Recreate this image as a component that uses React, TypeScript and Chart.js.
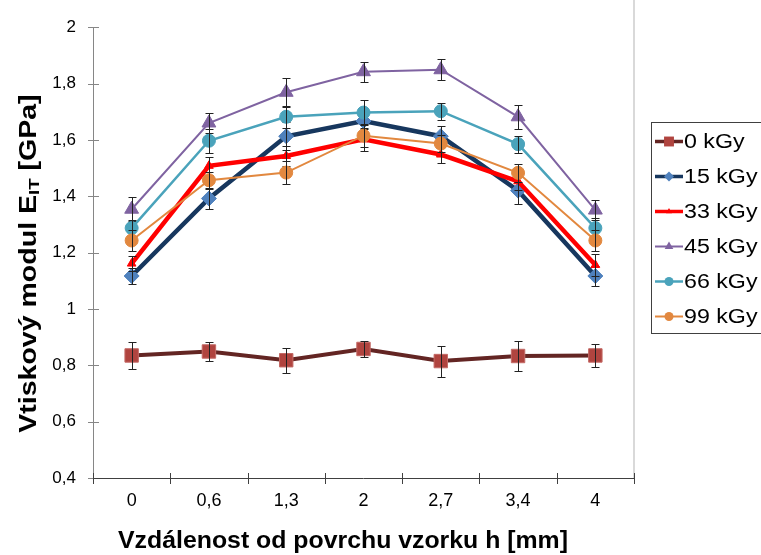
import { useEffect, useRef } from "react";
import { Chart, registerables } from "chart.js";

Chart.register(...registerables);

const categories = ["0", "0,6", "1,3", "2", "2,7", "3,4", "4"];
const seriesNames = ["0 kGy", "15 kGy", "33 kGy", "45 kGy", "66 kGy", "99 kGy"];

const values0 = [0.835, 0.849, 0.818, 0.858, 0.815, 0.833, 0.835];
const errors0 = [0.048, 0.035, 0.044, 0.028, 0.055, 0.052, 0.041];
const values15 = [1.117, 1.392, 1.613, 1.667, 1.613, 1.42, 1.117];
const errors15 = [0.03, 0.038, 0.05, 0.03, 0.037, 0.049, 0.035];
const values33 = [1.161, 1.508, 1.543, 1.602, 1.548, 1.453, 1.156];
const errors33 = [0.028, 0.031, 0.035, 0.04, 0.031, 0.03, 0.038];
const values45 = [1.354, 1.66, 1.769, 1.842, 1.849, 1.682, 1.351];
const errors45 = [0.043, 0.037, 0.051, 0.036, 0.037, 0.042, 0.036];
const values66 = [1.287, 1.597, 1.682, 1.697, 1.702, 1.585, 1.287];
const errors66 = [0.03, 0.042, 0.04, 0.043, 0.03, 0.03, 0.035];
const values99 = [1.243, 1.457, 1.484, 1.615, 1.587, 1.483, 1.243];
const errors99 = [0.037, 0.03, 0.04, 0.04, 0.03, 0.033, 0.037];

const yMin = 0.4;
const yMax = 2;
const yStep = 0.2;

const xTitle = "Vzdálenost od povrchu vzorku h [mm]";
const yTitleMain = "Vtiskový modul E";
const yTitleSub = "IT";
const yTitleEnd = " [GPa]";

const allValues = [values0, values15, values33, values45, values66, values99];
const allErrors = [errors0, errors15, errors33, errors45, errors66, errors99];

const styles = [
  { line: "#632523", width: 4, shape: "rect", radius: 9.5, fill: "#B0443F", edge: "#C46A66", lw: 3.5, lr: 7 },
  { line: "#17375E", width: 4.5, shape: "rectRot", radius: 7.5, fill: "#4F81BD", edge: "#4F81BD", lw: 3.5, lr: 5 },
  { line: "#FF0000", width: 4.5, shape: "triangle", radius: 5, fill: "#FF0000", edge: "#FF0000", lw: 3.5, lr: 3.5 },
  { line: "#7F63A1", width: 2, shape: "triangle", radius: 8, fill: "#7F63A1", edge: "#7F63A1", lw: 2, lr: 5 },
  { line: "#4AA3BB", width: 2.5, shape: "circle", radius: 6.5, fill: "#4AA3BB", edge: "#4AA3BB", lw: 2.5, lr: 4.5 },
  { line: "#E2883F", width: 2, shape: "circle", radius: 6.5, fill: "#E2883F", edge: "#E2883F", lw: 2, lr: 4.5 },
];

const FONT = "'Liberation Sans', Arial, sans-serif";

function drawMarker(ctx: CanvasRenderingContext2D, shape: string, x: number, y: number, r: number) {
  ctx.beginPath();
  if (shape === "rect") {
    const s = Math.SQRT1_2 * r;
    ctx.rect(x - s, y - s, 2 * s, 2 * s);
  } else if (shape === "rectRot") {
    ctx.moveTo(x, y - r);
    ctx.lineTo(x + r, y);
    ctx.lineTo(x, y + r);
    ctx.lineTo(x - r, y);
    ctx.closePath();
  } else if (shape === "triangle") {
    const h = r * 1.5;
    const w = r * Math.sqrt(3) / 2;
    ctx.moveTo(x, y - r);
    ctx.lineTo(x + w, y - r + h);
    ctx.lineTo(x - w, y - r + h);
    ctx.closePath();
  } else {
    ctx.arc(x, y, r, 0, Math.PI * 2);
  }
  ctx.fill();
}

const decorPlugin = {
  id: "decor",
  beforeDatasetsDraw(chart: any) {
    const ctx = chart.ctx as CanvasRenderingContext2D;
    const area = chart.chartArea;
    const xs = chart.scales.x;
    const ys = chart.scales.y;
    ctx.save();
    ctx.strokeStyle = "#D9D9D9";
    ctx.lineWidth = 2;
    ctx.beginPath();
    ctx.moveTo(area.right, 0);
    ctx.lineTo(area.right, area.bottom);
    ctx.stroke();
    ctx.strokeStyle = "#868686";
    ctx.lineWidth = 1;
    ctx.beginPath();
    ctx.moveTo(area.left + 0.5, area.top);
    ctx.lineTo(area.left + 0.5, area.bottom);
    ys.ticks.forEach((t: any) => {
      const py = Math.round(ys.getPixelForValue(t.value)) + 0.5;
      ctx.moveTo(area.left - 5, py);
      ctx.lineTo(area.left + 6, py);
    });
    ctx.stroke();
    ctx.strokeStyle = "#404040";
    ctx.beginPath();
    ctx.moveTo(area.left, area.bottom + 0.5);
    ctx.lineTo(area.right, area.bottom + 0.5);
    const step = xs.getPixelForValue(1) - xs.getPixelForValue(0);
    for (let i = 0; i <= categories.length; i++) {
      const px = Math.round(xs.getPixelForValue(0) - step / 2 + i * step) + 0.5;
      ctx.moveTo(px, area.bottom - 5);
      ctx.lineTo(px, area.bottom + 6);
    }
    ctx.stroke();
    ctx.restore();
  },
  afterDatasetDraw(chart: any, args: any) {
    const i = args.index;
    const ctx = chart.ctx as CanvasRenderingContext2D;
    const xs = chart.scales.x;
    const ys = chart.scales.y;
    const vals = allValues[i];
    const errs = allErrors[i];
    ctx.save();
    ctx.strokeStyle = "#222222";
    ctx.lineWidth = 1;
    ctx.beginPath();
    vals.forEach((v, j) => {
      const px = Math.round(xs.getPixelForValue(j)) + 0.5;
      const top = Math.round(ys.getPixelForValue(v + errs[j])) + 0.5;
      const bot = Math.round(ys.getPixelForValue(v - errs[j])) + 0.5;
      ctx.moveTo(px, top);
      ctx.lineTo(px, bot);
      ctx.moveTo(px - 4, top);
      ctx.lineTo(px + 4, top);
      ctx.moveTo(px - 4, bot);
      ctx.lineTo(px + 4, bot);
    });
    ctx.stroke();
    ctx.restore();
  },
  afterDraw(chart: any) {
    const ctx = chart.ctx as CanvasRenderingContext2D;
    const area = chart.chartArea;
    ctx.save();
    ctx.fillStyle = "#000000";
    // x title (slightly widened like the original rendering)
    ctx.font = `bold 23px ${FONT}`;
    ctx.textAlign = "center";
    ctx.textBaseline = "alphabetic";
    ctx.save();
    ctx.translate(343, 548);
    ctx.scale(1.08, 1);
    ctx.fillText(xTitle, 0, 0);
    ctx.restore();
    // y title with subscript
    ctx.translate(30, (area.top + area.bottom) / 2 + 11);
    ctx.rotate(-Math.PI / 2);
    ctx.scale(1.24, 1);
    const big = `bold 23px ${FONT}`;
    const small = `bold 15px ${FONT}`;
    ctx.font = big;
    const w1 = ctx.measureText(yTitleMain).width;
    const w3 = ctx.measureText(yTitleEnd).width;
    ctx.font = small;
    const w2 = ctx.measureText(yTitleSub).width;
    let x0 = -(w1 + w2 + w3) / 2;
    ctx.textAlign = "left";
    ctx.textBaseline = "middle";
    ctx.font = big;
    ctx.fillText(yTitleMain, x0, 0);
    x0 += w1;
    ctx.font = small;
    ctx.fillText(yTitleSub, x0, 5);
    x0 += w2;
    ctx.font = big;
    ctx.fillText(yTitleEnd, x0, 0);
    ctx.restore();

    // legend
    ctx.save();
    ctx.strokeStyle = "#404040";
    ctx.lineWidth = 1;
    ctx.strokeRect(651.5, 122.5, 130, 211);
    ctx.font = `20px ${FONT}`;
    ctx.textAlign = "left";
    ctx.textBaseline = "middle";
    seriesNames.forEach((name, i) => {
      const st = styles[i];
      const cy = 141.5 + i * 35;
      ctx.strokeStyle = st.line;
      ctx.lineWidth = st.lw;
      ctx.beginPath();
      ctx.moveTo(655, cy);
      ctx.lineTo(683, cy);
      ctx.stroke();
      ctx.fillStyle = st.fill;
      drawMarker(ctx, st.shape, 669, cy, st.lr);
      ctx.fillStyle = "#000000";
      ctx.save();
      ctx.translate(684, cy + 1);
      ctx.scale(1.16, 1);
      ctx.fillText(name, 0, 0);
      ctx.restore();
    });
    ctx.restore();
  },
};

export default function App() {
  const ref = useRef<HTMLCanvasElement | null>(null);
  useEffect(() => {
    document.body.style.margin = "0";
    const canvas = ref.current;
    if (!canvas) return;
    const datasets = seriesNames.map((name, i) => ({
      label: name,
      data: allValues[i],
      borderColor: styles[i].line,
      borderWidth: styles[i].width,
      pointStyle: styles[i].shape,
      pointRadius: styles[i].radius,
      pointBackgroundColor: styles[i].fill,
      pointBorderColor: styles[i].edge,
      pointBorderWidth: 1,
      tension: 0,
      fill: false,
      order: seriesNames.length - 1 - i,
    }));
    const chart = new Chart(canvas, {
      type: "line",
      data: { labels: categories, datasets },
      options: {
        animation: false,
        responsive: false,
        maintainAspectRatio: false,
        layout: { padding: { top: 20, right: 127, left: 0, bottom: 0 } },
        plugins: { legend: { display: false }, tooltip: { enabled: false }, title: { display: false } },
        scales: {
          x: {
            type: "category",
            offset: true,
            grid: { display: false, drawTicks: false },
            border: { display: false },
            ticks: { font: { family: FONT, size: 18 }, color: "#000000", padding: 12, maxRotation: 0 },
            afterFit: (s: any) => { s.height = 77; },
          },
          y: {
            min: yMin,
            max: yMax,
            grid: { display: false, drawTicks: false },
            border: { display: false },
            ticks: {
              stepSize: yStep,
              font: { family: FONT, size: 17 },
              color: "#000000",
              padding: 17,
              callback: (v: any) => String(Math.round(Number(v) * 10) / 10).replace(".", ","),
            },
            afterFit: (s: any) => { s.width = 93; },
          },
        },
      },
      plugins: [decorPlugin],
    } as any);
    return () => chart.destroy();
  }, []);
  return (
    <div style={{ position: "absolute", left: 0, top: 0, width: 761, height: 555, background: "#ffffff" }}>
      <canvas ref={ref} width={761} height={555} style={{ width: 761, height: 555, display: "block" }} />
    </div>
  );
}
